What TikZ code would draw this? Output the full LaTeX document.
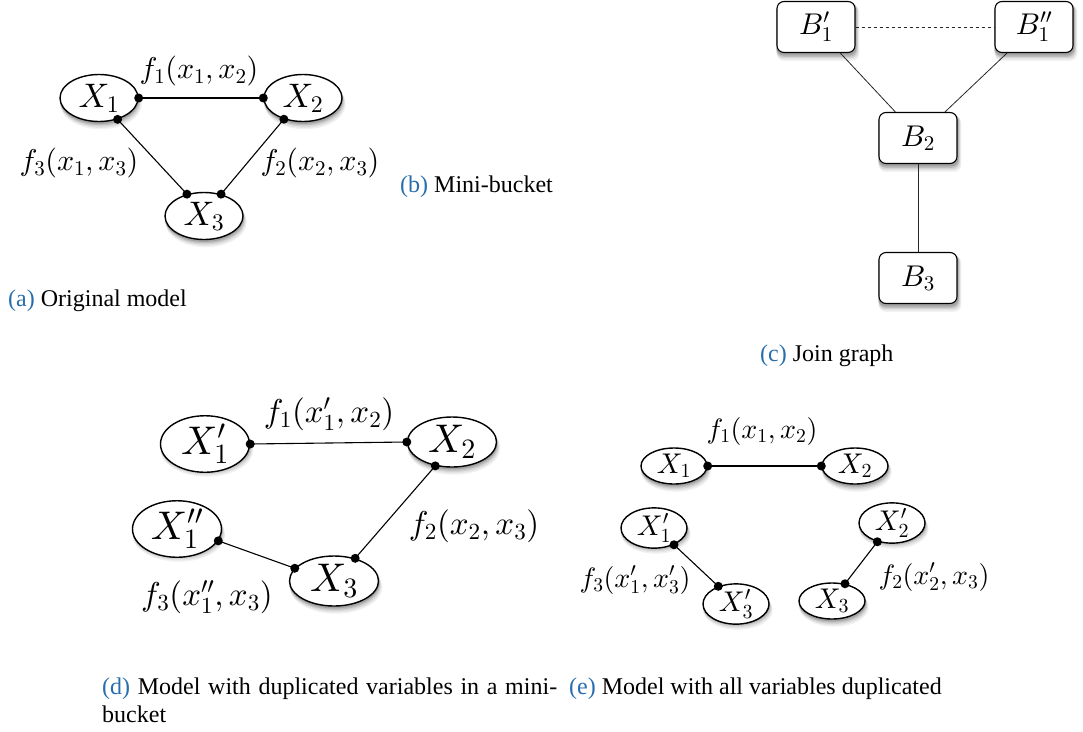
\documentclass[tikz,border=0pt]{standalone}
\usepackage[no-math]{fontspec}
\newfontfamily\capfont{Liberation Serif}
\DeclareFontFamily{OML}{cmm}{\skewchar\font'177}
\DeclareFontShape{OML}{cmm}{m}{it}{<-6>cmmi5<6-8.5>cmmi7<8.5->cmmi10}{}
\DeclareFontFamily{OT1}{cmr}{}
\DeclareFontShape{OT1}{cmr}{m}{n}{<-6>cmr5<6-8.5>cmr7<8.5->cmr10}{}
\DeclareFontFamily{OMS}{cmsy}{\skewchar\font'60}
\DeclareFontShape{OMS}{cmsy}{m}{n}{<-6>cmsy5<6-8.5>cmsy7<8.5->cmsy10}{}
\usetikzlibrary{shapes.geometric}
\pgfdeclarelayer{bg}
\pgfsetlayers{bg,main}
\definecolor{capblue}{RGB}{40,110,175}
\newcommand\myedge[2]{\draw[edgeline] (#1) -- (#2); \fill (#1) circle[radius=4.5pt] (#2) circle[radius=4.5pt];}
\newcommand\eshadow[3]{\begin{pgfonlayer}{bg}
  \foreach \shc/\shd in {5/5,10/4,17/3,26/2,36/1}{%
    \fill[black!\shc] ([shift={(0.4*\shd,\shd+1)}]#1.center) ellipse[x radius=#2+0.35*\shd, y radius=#3+0.35*\shd];}
  \end{pgfonlayer}}
\newcommand\bshadow[1]{\begin{pgfonlayer}{bg}
  \foreach \shc/\shd in {5/5,10/4,17/3,26/2,36/1}{%
    \fill[black!\shc,rounded corners=7pt] ([shift={(0.4*\shd-0.35*\shd,\shd+1+0.35*\shd)}]#1.south west) rectangle ([shift={(0.4*\shd+0.35*\shd,\shd+1-0.35*\shd)}]#1.north east);}
  \end{pgfonlayer}}
\begin{document}
\begin{tikzpicture}[x=1pt,y=-1pt,
  var/.style={ellipse,draw,line width=1.4pt,fill=white,inner sep=0pt},
  va/.style={var,minimum width=78pt,minimum height=47pt,font=\fontsize{34}{40}\selectfont},
  vd/.style={var,minimum width=89pt,minimum height=50pt,font=\fontsize{40}{46}\selectfont},
  ve/.style={var,minimum width=66pt,minimum height=36pt,font=\fontsize{28.5}{34}\selectfont},
  bx/.style={rectangle,rounded corners=7pt,draw,line width=1.1pt,fill=white,
             minimum width=78pt,minimum height=51pt,inner sep=0pt,font=\fontsize{30}{36}\selectfont},
  edgeline/.style={line width=1.1pt},
  jline/.style={line width=0.8pt,draw=black!85},
  la/.style={inner sep=0pt,font=\fontsize{30}{36}\selectfont},
  ld/.style={inner sep=0pt,font=\fontsize{33}{40}\selectfont},
  le/.style={inner sep=0pt,font=\fontsize{28}{34}\selectfont},
  captxt/.style={anchor=base west,inner sep=0pt,font=\capfont\fontsize{24}{28}\selectfont},
]
\useasboundingbox (0,0) rectangle (1083,731);

% (a) original model
\node[va] (a1) at (99,98) {$X_1$};
\node[va] (a2) at (303,98) {$X_2$};
\node[va] (a3) at (204,216) {$X_3$};
\eshadow{a1}{39}{23.5}\eshadow{a2}{39}{23.5}\eshadow{a3}{39}{23.5}
\myedge{a1.east}{a2.west}
\myedge{a1.-49}{a3.128}
\myedge{a2.-132}{a3.52}
\node[la] (la1) at (199,71) {$f_1(x_1,x_2)$};
\node[la] (la3) at (79,163) {$f_3(x_1,x_3)$};
\node[la] (la2) at (320,163) {$f_2(x_2,x_3)$};
\node[captxt] (capa) at (8,306) {\textcolor{capblue}{(a)} Original model};

% (b)
\node[captxt] (capb) at (400,192) {\textcolor{capblue}{(b)} Mini-bucket};

% (c) join graph
\node[bx] (b1) at (816,27) {$B'_1$};
\node[bx] (b1b) at (1034,27) {$B''_1$};
\node[bx] (b2) at (918,138) {$B_2$};
\node[bx] (b3) at (918,278) {$B_3$};
\bshadow{b1}\bshadow{b1b}\bshadow{b2}\bshadow{b3}
\draw[jline,dashed] (b1.east) -- (b1b.west);
\draw[jline] (b1.-47) -- (b2.131);
\draw[jline] (b1b.-136) -- (b2.44);
\draw[jline] (b2.south) -- (b3.north);
\node[captxt] (capc) at (760,361) {\textcolor{capblue}{(c)} Join graph};

% (d) duplicated in mini-bucket
\node[vd] (d1) at (205,444) {$X'_1$};
\node[vd] (d2) at (452,442) {$X_2$};
\node[vd] (d1b) at (177,529) {$X''_1$};
\node[vd] (d3) at (334,581) {$X_3$};
\eshadow{d1}{44.5}{25}\eshadow{d2}{44.5}{25}\eshadow{d1b}{44.5}{25}\eshadow{d3}{44.5}{25}
\myedge{d1.east}{d2.west}
\myedge{d2.-125}{d3.47}
\myedge{d1b.-16}{d3.162}
\node[ld] (ld1) at (329,414) {$f_1(x'_1,x_2)$};
\node[ld] (ld2) at (474,526) {$f_2(x_2,x_3)$};
\node[ld] (ld3) at (207,597) {$f_3(x''_1,x_3)$};
\node[captxt] (capd) at (102,694) {\makebox[455pt][s]{\textcolor{capblue}{(d)} Model with duplicated variables in a mini-}};
\node[captxt] (capd2) at (102,722) {bucket};

% (e) all duplicated
\node[ve] (e1) at (674,466) {$X_1$};
\node[ve] (e2) at (855,466) {$X_2$};
\node[ve] (e1p) at (654,528) {$X'_1$};
\node[ve] (e3p) at (736,604) {$X'_3$};
\node[ve] (e2p) at (892,523) {$X'_2$};
\node[ve] (e3) at (832,601) {$X_3$};
\eshadow{e1}{33}{18}\eshadow{e2}{33}{18}\eshadow{e1p}{33}{18}\eshadow{e3p}{33}{18}\eshadow{e2p}{33}{18}\eshadow{e3}{33}{18}
\myedge{e1.east}{e2.west}
\myedge{e1p.-40}{e3p.135}
\myedge{e2p.-128}{e3.53}
\node[le] (le1) at (762,431) {$f_1(x_1,x_2)$};
\node[le] (le3) at (635,580) {$f_3(x'_1,x'_3)$};
\node[le] (le2) at (934,577) {$f_2(x'_2,x_3)$};
\node[captxt] (cape) at (569,694) {\textcolor{capblue}{(e)} Model with all variables duplicated};
\end{tikzpicture}
\end{document}
